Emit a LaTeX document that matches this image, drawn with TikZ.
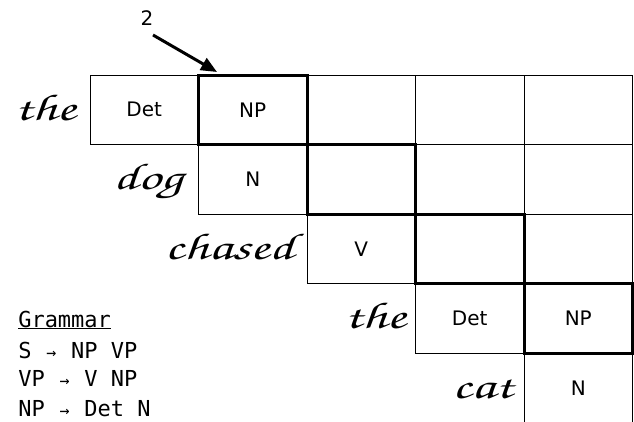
\documentclass[tikz,border=0pt]{standalone}
\usepackage[T1]{fontenc}
\usepackage{fontspec}
\usepackage{graphicx}
\setmainfont{DejaVu Sans}
\newfontfamily\gmono{DejaVu Sans Mono}
\usetikzlibrary{arrows.meta,calc}
\newcommand{\scrword}[1]{\scalebox{1.5}[1]{\fontencoding{T1}\fontfamily{pzc}\fontseries{m}\fontshape{it}\fontsize{28}{28}\selectfont #1}}
\newcommand{\celltext}{\fontsize{15}{18}\selectfont}
\newcommand{\garr}{\makebox[0.602em][c]{\fontsize{12.5}{12.5}\selectfont →}}
\tikzset{
  cell/.style={draw, line width=0.6pt, minimum width=81.375pt, minimum height=52.125pt,
    inner sep=0pt, outer sep=0pt, anchor=north west, font=\celltext},
  hot/.style={draw, line width=2.25pt, line join=miter},
  word/.style={anchor=base east, inner sep=0pt},
  gram/.style={anchor=base west, inner sep=0pt, font=\gmono\fontsize{16.5}{20}\selectfont},
}
\begin{document}
\begin{tikzpicture}[x=0.75pt,y=-0.75pt]
\useasboundingbox (0,0) rectangle (634,421);
\clip (0,0) rectangle (634,421);
% row 0
\node[cell] (c00) at (90,75) {Det};
\node[cell] (c01) at (198.5,75) {NP};
\node[cell] (c02) at (307,75) {};
\node[cell] (c03) at (415.5,75) {};
\node[cell] (c04) at (524,75) {};
% row 1
\node[cell] (c11) at (198.5,144.5) {N};
\node[cell] (c12) at (307,144.5) {};
\node[cell] (c13) at (415.5,144.5) {};
\node[cell] (c14) at (524,144.5) {};
% row 2
\node[cell] (c22) at (307,214) {V};
\node[cell] (c23) at (415.5,214) {};
\node[cell] (c24) at (524,214) {};
% row 3
\node[cell] (c33) at (415.5,283.5) {Det};
\node[cell] (c34) at (524,283.5) {NP};
% row 4
\node[cell] (c44) at (524,353) {N};
% thick diagonal
\foreach \c in {c01,c12,c23,c34}{
  \draw[hot] (\c.north west) rectangle (\c.south east);
}
% words
\node[word] (w0) at (76,120) {\scrword{the}};
\node[word] (w1) at (183,189.5) {\scrword{dog}};
\node[word] (w2) at (294,259) {\scrword{chased}};
\node[word] (w3) at (406,328.5) {\scrword{the}};
\node[word] (w4) at (513,398) {\scrword{cat}};
% arrow
\node[font=\celltext] (two) at (147,18) {2};
\coordinate (astart) at (153,35);
\coordinate (aend) at (217,72);
\draw[line width=2.25pt, -{Triangle[length=12pt,width=10pt]}] (astart) -- (aend);
% grammar
\node[gram] (g0) at (18,327) {Grammar};
\draw[line width=0.6pt] (g0.base west) ++(0,1.5) coordinate (u0) -- (u0 -| g0.east);
\node[gram] (g1) at (18,358.3) {S \garr{} NP VP};
\node[gram] (g2) at (18,386.7) {VP \garr{} V NP};
\node[gram] (g3) at (18,416.7) {NP \garr{} Det N};
\end{tikzpicture}
\end{document}
